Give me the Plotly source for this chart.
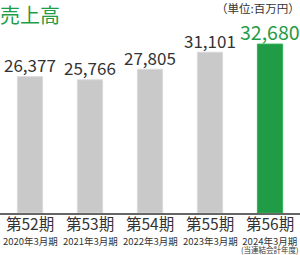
import plotly.graph_objects as go

periods = ["第52期", "第53期", "第54期", "第55期", "第56期"]
fiscal = ["2020年3月期", "2021年3月期", "2022年3月期", "2023年3月期", "2024年3月期"]
notes = ["", "", "", "", "(当連結会計年度)"]
sales = [26377, 25766, 27805, 31101, 32680]
title_text = "売上高"
unit_text = "（単位:百万円）"

GREEN = "#1f9c45"
GRAY = "#c9c9c9"
DARK = "#333333"
FONT = "Noto Sans CJK JP"
bar_colors = [GRAY] * 4 + [GREEN]
line_colors = ["#dadada"] * 4 + ["#2fb356"]
text_colors = [DARK] * 4 + [GREEN]
text_sizes = [17] * 4 + [19.5]
text_shifts = [12] * 4 + [13]

fig = go.Figure(go.Bar(
    x=periods, y=sales,
    marker=dict(color=bar_colors, line=dict(color=line_colors, width=1)),
    cliponaxis=False,
    hoverinfo="skip",
))

fig.update_layout(
    width=300, height=255,
    margin=dict(l=0, r=0, t=37, b=42),
    paper_bgcolor="white", plot_bgcolor="white",
    bargap=0.58,
    showlegend=False,
    font=dict(family=FONT, color=DARK),
)
fig.update_xaxes(
    showline=True, linecolor="#666666", linewidth=1.5,
    ticks="", showticklabels=False,
    showgrid=False, fixedrange=True,
)
fig.update_yaxes(range=[0, 34050], visible=False, showgrid=False)

ann = dict(showarrow=False, borderpad=0, borderwidth=0)

# value labels
for p, v, c, s, sh in zip(periods, sales, text_colors, text_sizes, text_shifts):
    fig.add_annotation(x=p, y=v, text=f"{v:,}", yanchor="middle", yshift=sh,
                       font=dict(size=s, color=c, family=FONT), **ann)

# category labels
for p, f, n in zip(periods, fiscal, notes):
    fig.add_annotation(x=p, y=0, text=p, yanchor="middle", yshift=-9.5,
                       font=dict(size=15.5, color=DARK, family=FONT), **ann)
    sub = f"<span style='font-size:9.5px'>{f}</span>"
    if n:
        sub += f"<br><span style='font-size:7.5px'>{n}</span>"
    fig.add_annotation(x=p, y=0, text=sub, yanchor="top", yshift=-21,
                       font=dict(size=6.5, color=DARK, family=FONT), **ann)

fig.add_annotation(text=title_text, xref="paper", yref="paper", x=0, y=1,
                   xanchor="left", yanchor="top", yshift=37,
                   font=dict(size=20, color=GREEN, family=FONT), **ann)
fig.add_annotation(text=unit_text, xref="paper", yref="paper", x=1, y=1,
                   xanchor="right", yanchor="top", yshift=37,
                   font=dict(size=11.5, color=DARK, family=FONT), **ann)

fig.write_html("out.html")
